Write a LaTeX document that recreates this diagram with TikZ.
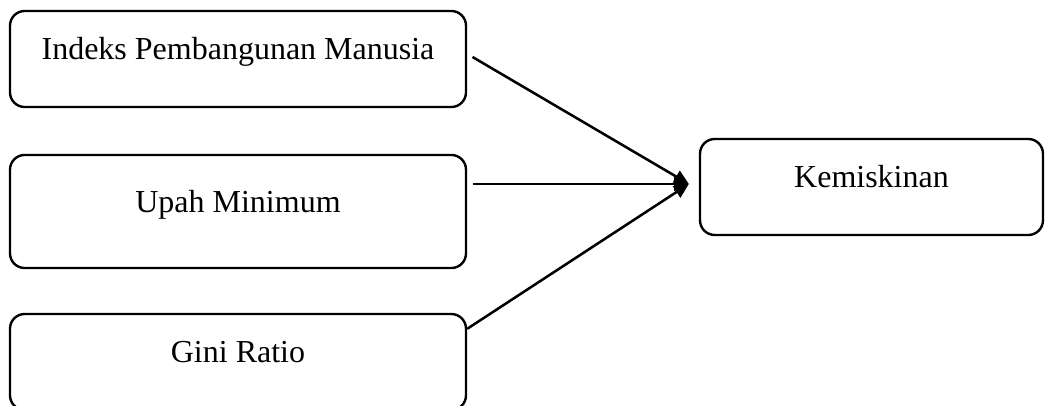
\documentclass[tikz,border=0pt]{standalone}
\usepackage{fontspec}
\setmainfont{Liberation Serif}
\usepackage{tikz}
\usetikzlibrary{
  arrows.meta,
  positioning,
  calc
}
\definecolor{LineBlack}{RGB}{0, 0, 0}
\tikzset{
    varbox/.style={rectangle, draw=LineBlack, line width=0.9pt, rounded corners=5.5pt,
        minimum width=171pt, text height=8pt, text depth=7.5pt, inner sep=0pt,
        font=\fontsize{12}{14}\selectfont},
    varlink/.style={draw=LineBlack, line width=0.95pt, -{Triangle[length=5.5pt, width=5pt]}}
}

\begin{document}
\begin{tikzpicture}[x=0.375pt, y=-0.375pt]
            \useasboundingbox (0,0) rectangle (1045,406);
            \node[varbox, minimum height=36pt] (ipm) at (238,59) {Indeks Pembangunan Manusia};
            \node[varbox, minimum height=42.4pt] (upah) at (238,211.5) {Upah Minimum};
            \node[varbox, minimum height=36pt] (gini) at (238,362) {Gini Ratio};
            \node[varbox, minimum height=36pt, minimum width=128.6pt] (kemiskinan) at (871.5,187) {Kemiskinan};
            \coordinate (tip) at ($(kemiskinan.west)+(-10,-3)$);
            \draw[varlink] ([xshift=2pt, yshift=0.75pt]ipm.east) -- (tip);
            \draw[varlink] ([xshift=2pt]upah.east |- tip) -- (tip);
            \draw[varlink] ([yshift=-6pt]gini.north east) -- (tip);
        \end{tikzpicture}
\end{document}
